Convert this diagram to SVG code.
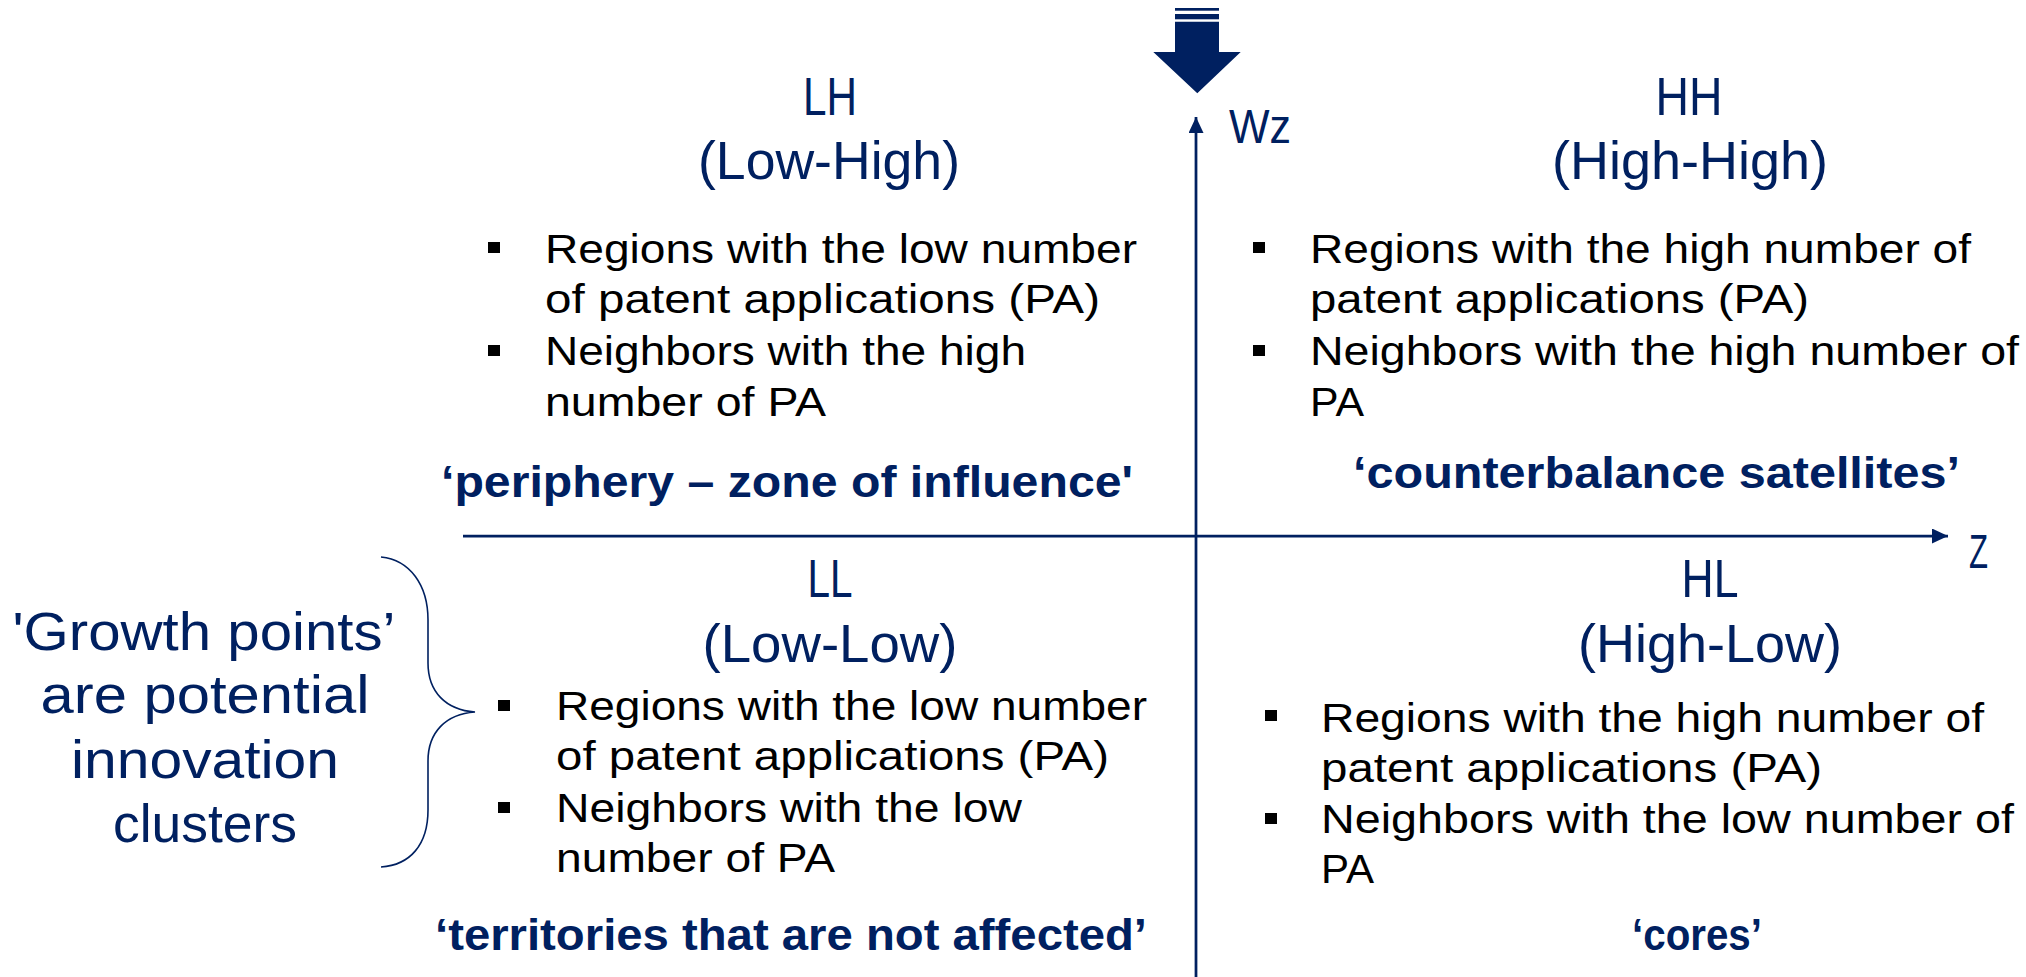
<svg xmlns="http://www.w3.org/2000/svg" width="2026" height="977" viewBox="0 0 2026 977">
<defs>
<style>
.t{font-family:"Liberation Sans",Arial,sans-serif;fill:#002060;font-size:53px}
.b{font-family:"Liberation Sans",Arial,sans-serif;fill:#000;font-size:41px}
.bold{font-family:"Liberation Sans",Arial,sans-serif;fill:#002060;font-size:45px;font-weight:bold}
.ax{font-family:"Liberation Sans",Arial,sans-serif;fill:#002060;font-size:48px}
.g{font-family:"Liberation Sans",Arial,sans-serif;fill:#002060;font-size:54px}
.axis{stroke:#002060;stroke-width:2.75;fill:none}
.sq{fill:#000}
</style>
<marker id="ah" markerUnits="userSpaceOnUse" markerWidth="16" markerHeight="16" refX="16" refY="7.5" orient="auto">
<path d="M0,0 L16,7.5 L0,15 z" fill="#002060"/>
</marker>
</defs>
<rect width="2026" height="977" fill="#fff"/>

<g id="connectors">
<line class="axis" x1="1196" y1="977" x2="1196" y2="117" marker-end="url(#ah)"/>
<line class="axis" x1="463" y1="536" x2="1948" y2="536" marker-end="url(#ah)"/>
<path d="M381,557 C410,560 428,585 428,620 L428,663 C428,692 446,710 475,712 C446,714 428,732 428,761 L428,810 C428,845 410,865 381,867" fill="none" stroke="#002060" stroke-width="1.6"/>
</g>

<g id="big-arrow">
<rect x="1175" y="8" width="44" height="2.7" fill="#002060"/>
<rect x="1175" y="14" width="44" height="5.3" fill="#002060"/>
<polygon points="1175,21.7 1219,21.7 1219,52 1240.7,52 1197.3,93.3 1153.3,52 1175,52" fill="#002060"/>
</g>

<g id="axis-labels">
<text class="ax" x="1229" y="143" textLength="62" lengthAdjust="spacingAndGlyphs">Wz</text>
<text class="ax" x="1969" y="568" textLength="19" lengthAdjust="spacingAndGlyphs">Z</text>
</g>

<g id="LH">
<text class="t" x="830" y="115" text-anchor="middle" textLength="54" lengthAdjust="spacingAndGlyphs">LH</text>
<text class="t" x="829" y="179" text-anchor="middle" textLength="262" lengthAdjust="spacingAndGlyphs">(Low-High)</text>
<rect class="sq" x="488" y="242" width="12" height="11"/>
<rect class="sq" x="488" y="345" width="12" height="11"/>
<text class="b" x="545" y="263" textLength="592" lengthAdjust="spacingAndGlyphs">Regions with the low number</text>
<text class="b" x="545" y="313" textLength="555" lengthAdjust="spacingAndGlyphs">of patent applications (PA)</text>
<text class="b" x="545" y="365" textLength="481" lengthAdjust="spacingAndGlyphs">Neighbors with the high</text>
<text class="b" x="545" y="416" textLength="281" lengthAdjust="spacingAndGlyphs">number of PA</text>
<text class="bold" x="441" y="497" textLength="692" lengthAdjust="spacingAndGlyphs">‘periphery – zone of influence'</text>
</g>

<g id="HH">
<text class="t" x="1689" y="115" text-anchor="middle" textLength="67" lengthAdjust="spacingAndGlyphs">HH</text>
<text class="t" x="1690" y="179" text-anchor="middle" textLength="276" lengthAdjust="spacingAndGlyphs">(High-High)</text>
<rect class="sq" x="1253" y="242" width="12" height="11"/>
<rect class="sq" x="1253" y="345" width="12" height="11"/>
<text class="b" x="1310" y="263" textLength="661" lengthAdjust="spacingAndGlyphs">Regions with the high number of</text>
<text class="b" x="1310" y="313" textLength="499" lengthAdjust="spacingAndGlyphs">patent applications (PA)</text>
<text class="b" x="1310" y="365" textLength="709" lengthAdjust="spacingAndGlyphs">Neighbors with the high number of</text>
<text class="b" x="1310" y="416" textLength="54" lengthAdjust="spacingAndGlyphs">PA</text>
<text class="bold" x="1353" y="488" textLength="607" lengthAdjust="spacingAndGlyphs">‘counterbalance satellites’</text>
</g>

<g id="LL">
<text class="t" x="830" y="597" text-anchor="middle" textLength="45" lengthAdjust="spacingAndGlyphs">LL</text>
<text class="t" x="830" y="662" text-anchor="middle" textLength="255" lengthAdjust="spacingAndGlyphs">(Low-Low)</text>
<rect class="sq" x="498" y="700" width="12" height="11"/>
<rect class="sq" x="498" y="802" width="12" height="11"/>
<text class="b" x="556" y="720" textLength="591" lengthAdjust="spacingAndGlyphs">Regions with the low number</text>
<text class="b" x="556" y="770" textLength="553" lengthAdjust="spacingAndGlyphs">of patent applications (PA)</text>
<text class="b" x="556" y="822" textLength="466" lengthAdjust="spacingAndGlyphs">Neighbors with the low</text>
<text class="b" x="556" y="872" textLength="279" lengthAdjust="spacingAndGlyphs">number of PA</text>
<text class="bold" x="435" y="950" textLength="712" lengthAdjust="spacingAndGlyphs">‘territories that are not affected’</text>
</g>

<g id="HL">
<text class="t" x="1710" y="597" text-anchor="middle" textLength="57" lengthAdjust="spacingAndGlyphs">HL</text>
<text class="t" x="1710" y="662" text-anchor="middle" textLength="264" lengthAdjust="spacingAndGlyphs">(High-Low)</text>
<rect class="sq" x="1265" y="710" width="12" height="11"/>
<rect class="sq" x="1265" y="813" width="12" height="11"/>
<text class="b" x="1321" y="732" textLength="663" lengthAdjust="spacingAndGlyphs">Regions with the high number of</text>
<text class="b" x="1321" y="782" textLength="501" lengthAdjust="spacingAndGlyphs">patent applications (PA)</text>
<text class="b" x="1321" y="833" textLength="693" lengthAdjust="spacingAndGlyphs">Neighbors with the low number of</text>
<text class="b" x="1321" y="883" textLength="53" lengthAdjust="spacingAndGlyphs">PA</text>
<text class="bold" x="1632" y="950" textLength="130" lengthAdjust="spacingAndGlyphs">‘cores’</text>
</g>

<g id="growth-points">
<text class="g" x="204" y="650" text-anchor="middle" textLength="383" lengthAdjust="spacingAndGlyphs">'Growth points’</text>
<text class="g" x="205" y="713" text-anchor="middle" textLength="329" lengthAdjust="spacingAndGlyphs">are potential</text>
<text class="g" x="205" y="778" text-anchor="middle" textLength="268" lengthAdjust="spacingAndGlyphs">innovation</text>
<text class="g" x="205" y="842" text-anchor="middle" textLength="184" lengthAdjust="spacingAndGlyphs">clusters</text>
</g>
</svg>
